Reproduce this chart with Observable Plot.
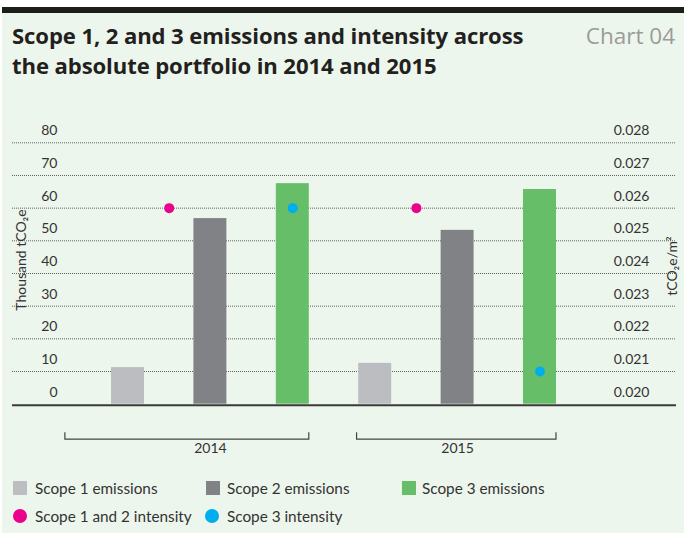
<!DOCTYPE html>
<html>
<head>
<meta charset="utf-8">
<script src="https://cdn.jsdelivr.net/npm/d3@7"></script>
<script src="https://cdn.jsdelivr.net/npm/@observablehq/plot@0.6"></script>
<style>
  html, body { margin: 0; padding: 0; background: #fff; }
  #wrap { position: relative; width: 684px; height: 533px; overflow: hidden; background: #fff; font-family: Lato, "Noto Sans", sans-serif; }
  #topbar { position: absolute; left: 2px; top: 7px; width: 682px; height: 6px; background: #1d1d1b; }
  #bg { position: absolute; left: 2px; top: 13px; width: 682px; height: 520px; background: #edf6ec; }
  #title { position: absolute; left: 12px; top: 21px; font-family: "Open Sans", sans-serif; font-size: 22.1px; font-weight: 700; line-height: 29.5px; color: #231f20; letter-spacing: -0.1px; }
  #chartno { position: absolute; right: 9px; top: 21px; font-family: "Open Sans", sans-serif; font-size: 22.5px; line-height: 29.5px; color: #9b9b9b; }
  #chart { position: absolute; left: 0; top: 90px; }
  .leg { position: absolute; font-size: 15.3px; color: #333; line-height: 20px; white-space: nowrap; }
  .sw { position: absolute; width: 14px; height: 14px; }
  .ci { position: absolute; width: 14px; height: 14px; border-radius: 50%; }
  .ytitle { position: absolute; width: 200px; height: 20px; line-height: 20px; text-align: center; font-size: 14px; color: #333; transform: rotate(-90deg); white-space: nowrap; }
</style>
</head>
<body>
<div id="wrap">
  <div id="topbar"></div>
  <div id="bg"></div>
  <div id="title">Scope 1, 2 and 3 emissions and intensity across<br>the absolute portfolio in 2014 and 2015</div>
  <div id="chartno">Chart 04</div>
  <div id="chart"></div>
  <div class="ytitle" id="ytl" style="left:-79px; top:250px;"></div>
  <div class="ytitle" id="ytr" style="left:572px; top:256px;"></div>
  <div id="legend"></div>
</div>
<script>
// ---- data ----
const years = ["2014", "2015"];
const scopes = ["Scope 1 emissions", "Scope 2 emissions", "Scope 3 emissions"];
const scope1 = [11.2, 12.5];   // thousand tCO2e
const scope2 = [56.8, 53.2];
const scope3 = [67.5, 65.7];
const intensity12 = [0.026, 0.026]; // tCO2e/m2
const intensity3 = [0.026, 0.021];
const leftTicks = [0, 10, 20, 30, 40, 50, 60, 70, 80];
const rightTicks = [0.020, 0.021, 0.022, 0.023, 0.024, 0.025, 0.026, 0.027, 0.028];
const intensityNames = ["Scope 1 and 2 intensity", "Scope 3 intensity"];
const leftTitle = "Thousand tCO\u2082e";
const rightTitle = "tCO\u2082e/m\u00b2";

const colors = ["#bcbdc0", "#808285", "#66be69"];
const dotColors = ["#ec008c", "#00aeef"];

document.getElementById("ytl").textContent = leftTitle;
document.getElementById("ytr").textContent = rightTitle;

// right axis maps 0.020..0.028 onto 0..80
const toLeft = v => (v - rightTicks[0]) / (rightTicks[rightTicks.length - 1] - rightTicks[0]) * leftTicks[leftTicks.length - 1];

const bars = years.flatMap((yr, yi) =>
  [scope1[yi], scope2[yi], scope3[yi]].map((v, si) => ({year: yr, scope: scopes[si], value: v, pos: yi * 3 + si}))
);
const dots12 = years.map((yr, yi) => ({year: yr, value: intensity12[yi], pos: yi * 3 + 0.5}));
const dots3 = years.map((yr, yi) => ({year: yr, value: intensity3[yi], pos: yi * 3 + 2}));

// year brackets (group extents in band units)
const brackets = years.map((yr, yi) => ({year: yr, x1: yi === 0 ? -0.76 : yi * 3 - 0.22, x2: yi * 3 + 2.2}));

const bracketMark = (index, scales, values, dims) => {
  const g = d3.create("svg:g");
  const yb = dims.height - dims.marginBottom;
  for (const b of brackets) {
    const a = scales.x(b.x1), c = scales.x(b.x2);
    g.append("path")
      .attr("d", `M${a},${yb + 28.5}V${yb + 35.5}H${c}V${yb + 28.5}`)
      .attr("fill", "none").attr("stroke", "#444").attr("stroke-width", 1.2);
  }
  return g.node();
};

const plot = Plot.plot({
  width: 684,
  height: 380,
  marginLeft: 12,
  marginRight: 8,
  marginTop: 52.3,
  marginBottom: 66.3,
  x: {type: "linear", domain: [0, 5], range: [127.5, 539.5], axis: null},
  y: {domain: [0, 80], axis: null},
  color: {domain: scopes, range: colors},
  style: {background: "transparent", fontFamily: "Lato, 'Noto Sans', sans-serif", fontSize: "14px", color: "#333", overflow: "visible"},
  marks: [
    Plot.ruleY(leftTicks.filter(d => d > 0), {stroke: "#5e5e5e", strokeWidth: 1, strokeDasharray: "1,1"}),
    Plot.text(leftTicks, {y: d => d, text: d => String(d), frameAnchor: "left", dx: 45, dy: -12, textAnchor: "end", fill: "#333", fontSize: 14}),
    Plot.text(rightTicks, {y: d => toLeft(d), text: d => d.toFixed(3), frameAnchor: "right", dx: -27, dy: -12, textAnchor: "end", fill: "#333", fontSize: 14}),
    Plot.rectY(bars, {x1: d => d.pos - 0.2, x2: d => d.pos + 0.2, y1: 0, y2: "value", fill: "scope"}),
    Plot.ruleY([0], {stroke: "#3a3a3a", strokeWidth: 2, dy: 1}),
    Plot.dot(dots12, {x: "pos", y: d => toLeft(d.value), r: 5, fill: dotColors[0]}),
    Plot.dot(dots3, {x: "pos", y: d => toLeft(d.value), r: 5, fill: dotColors[1]}),
    bracketMark,
    Plot.text(years, {x: (d, i) => i * 3 + 1, text: d => d, frameAnchor: "bottom", dy: 49, fill: "#333", fontSize: 14})
  ]
});
document.getElementById("chart").appendChild(plot);

// legend
const legend = document.getElementById("legend");
const legPos = [{sx: 13, tx: 35}, {sx: 206, tx: 227}, {sx: 402, tx: 422}];
scopes.forEach((s, i) => {
  const sw = document.createElement("div");
  sw.className = "sw"; sw.style.left = legPos[i].sx + "px"; sw.style.top = "481px"; sw.style.background = colors[i];
  legend.appendChild(sw);
  const t = document.createElement("div");
  t.className = "leg"; t.style.left = legPos[i].tx + "px"; t.style.top = "478px"; t.textContent = s;
  legend.appendChild(t);
});
const legPos2 = [{sx: 13, tx: 35}, {sx: 205, tx: 227}];
intensityNames.forEach((s, i) => {
  const c = document.createElement("div");
  c.className = "ci"; c.style.left = legPos2[i].sx + "px"; c.style.top = "509px"; c.style.background = dotColors[i];
  legend.appendChild(c);
  const t = document.createElement("div");
  t.className = "leg"; t.style.left = legPos2[i].tx + "px"; t.style.top = "506px"; t.textContent = s;
  legend.appendChild(t);
});
</script>
</body>
</html>
